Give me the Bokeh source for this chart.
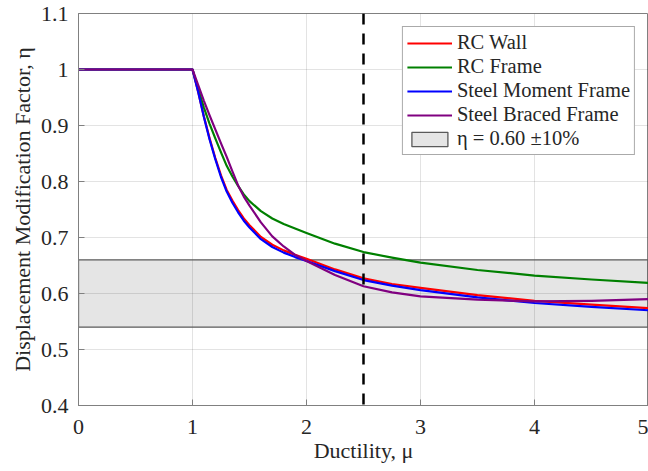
from bokeh.plotting import figure
from bokeh.models import Range1d, FixedTicker, Span, Legend, LegendItem
from bokeh.embed import file_html
from bokeh.resources import INLINE

# ---------------- data ----------------
mu = [0.0, 1.0, 1.05, 1.1, 1.15, 1.2, 1.25, 1.3, 1.35, 1.4, 1.45, 1.5, 1.6, 1.7, 1.8, 1.9,
      2.0, 2.25, 2.5, 2.75, 3.0, 3.5, 4.0, 4.5, 5.0]
eta_rc_wall = [1.0, 1.0, 0.960, 0.916, 0.877, 0.842, 0.811, 0.785, 0.766, 0.749, 0.734, 0.722,
               0.701, 0.687, 0.677, 0.669, 0.662, 0.643, 0.627, 0.617, 0.610, 0.597, 0.587,
               0.580, 0.574]
eta_rc_frame = [1.0, 1.0, 0.965, 0.932, 0.903, 0.877, 0.852, 0.828, 0.809, 0.792, 0.777, 0.765,
                0.747, 0.734, 0.724, 0.716, 0.708, 0.689, 0.674, 0.664, 0.655, 0.642, 0.632,
                0.625, 0.619]
eta_steel_moment = [1.0, 1.0, 0.960, 0.915, 0.875, 0.840, 0.808, 0.782, 0.762, 0.745, 0.730,
                    0.718, 0.697, 0.683, 0.673, 0.665, 0.658, 0.640, 0.624, 0.614, 0.606, 0.593,
                    0.583, 0.576, 0.570]
eta_steel_braced = [1.0, 1.0, 0.972, 0.944, 0.918, 0.893, 0.868, 0.844, 0.818, 0.793, 0.773,
                    0.757, 0.727, 0.702, 0.684, 0.669, 0.658, 0.633, 0.613, 0.602, 0.595, 0.589,
                    0.586, 0.587, 0.590]

series_names = ["RC Wall", "RC Frame", "Steel Moment Frame", "Steel Braced Frame"]
series_colors = ["#ff0000", "#008000", "#0000ff", "#800080"]

eta_target = 0.60
eta_tol = 0.10
mu_design = 2.5

x_ticks = [0, 1, 2, 3, 4, 5]
y_ticks = [0.4, 0.5, 0.6, 0.7, 0.8, 0.9, 1.0, 1.1]
y_tick_labels = ["0.4", "0.5", "0.6", "0.7", "0.8", "0.9", "1", "1.1"]

FONT = "Liberation Serif"
AX_COLOR = "#808080"
TXT_COLOR = "#262626"

p = figure(width=648, height=471, output_backend="svg", toolbar_location=None,
           x_range=Range1d(0, 5), y_range=Range1d(0.4, 1.1),
           min_border_left=78, min_border_right=0, min_border_top=13, min_border_bottom=66,
           x_axis_label="Ductility, μ", y_axis_label="Displacement Modification Factor, η")
p.background_fill_color = "white"
p.border_fill_color = "white"
p.outline_line_color = AX_COLOR
p.outline_line_width = 1

# axes
for ax in [p.xaxis[0], p.yaxis[0]]:
    ax.major_tick_in = 6
    ax.major_tick_out = 0
    ax.minor_tick_in = 0
    ax.minor_tick_out = 0
    ax.axis_line_color = AX_COLOR
    ax.major_tick_line_color = AX_COLOR
    ax.major_label_text_font = FONT
    ax.major_label_text_font_size = "22px"
    ax.major_label_text_color = TXT_COLOR
    ax.axis_label_text_font = FONT
    ax.axis_label_text_font_size = "22px"
    ax.axis_label_text_font_style = "normal"
    ax.axis_label_text_color = TXT_COLOR

p.xaxis[0].ticker = FixedTicker(ticks=x_ticks)
p.yaxis[0].ticker = FixedTicker(ticks=y_ticks)
p.yaxis[0].major_label_overrides = {t: l for t, l in zip(y_ticks, y_tick_labels)}
p.xaxis[0].major_label_standoff = 14
p.xaxis[0].axis_label_standoff = 1
p.yaxis[0].major_label_standoff = 10
p.yaxis[0].axis_label_standoff = 3

# grid
p.xgrid.ticker = FixedTicker(ticks=x_ticks)
p.ygrid.ticker = FixedTicker(ticks=y_ticks)
for g in [p.xgrid[0], p.ygrid[0]]:
    g.grid_line_color = "#262626"
    g.grid_line_alpha = 0.13
    g.grid_line_width = 1

# band
band = p.quad(left=[0], right=[5], bottom=[eta_target * (1 - eta_tol)],
              top=[eta_target * (1 + eta_tol)], fill_color="black", fill_alpha=0.1,
              line_color="#5a5a5a", line_width=1.3)

renderers = []
for ys, name, col in zip([eta_rc_wall, eta_rc_frame, eta_steel_moment, eta_steel_braced],
                         series_names, series_colors):
    r = p.line(mu, ys, line_color=col, line_width=2.2, line_join="round")
    renderers.append(r)

p.add_layout(Span(location=mu_design, dimension="height", line_color="black",
                  line_width=2.5, line_dash="11 9"))

items = [LegendItem(label=n, renderers=[r]) for n, r in zip(series_names, renderers)]
items.append(LegendItem(label="η = 0.60 ±10%", renderers=[band]))
legend = Legend(items=items, location="top_right", margin=13, padding=4, spacing=1,
                glyph_width=45, glyph_height=18, label_height=18, label_standoff=5,
                label_text_font=FONT, label_text_font_size="20.5px", label_text_color=TXT_COLOR,
                border_line_color="#555555", border_line_width=1,
                background_fill_color="white", background_fill_alpha=1)
p.add_layout(legend)

open("out.html", "w").write(file_html(p, INLINE))
